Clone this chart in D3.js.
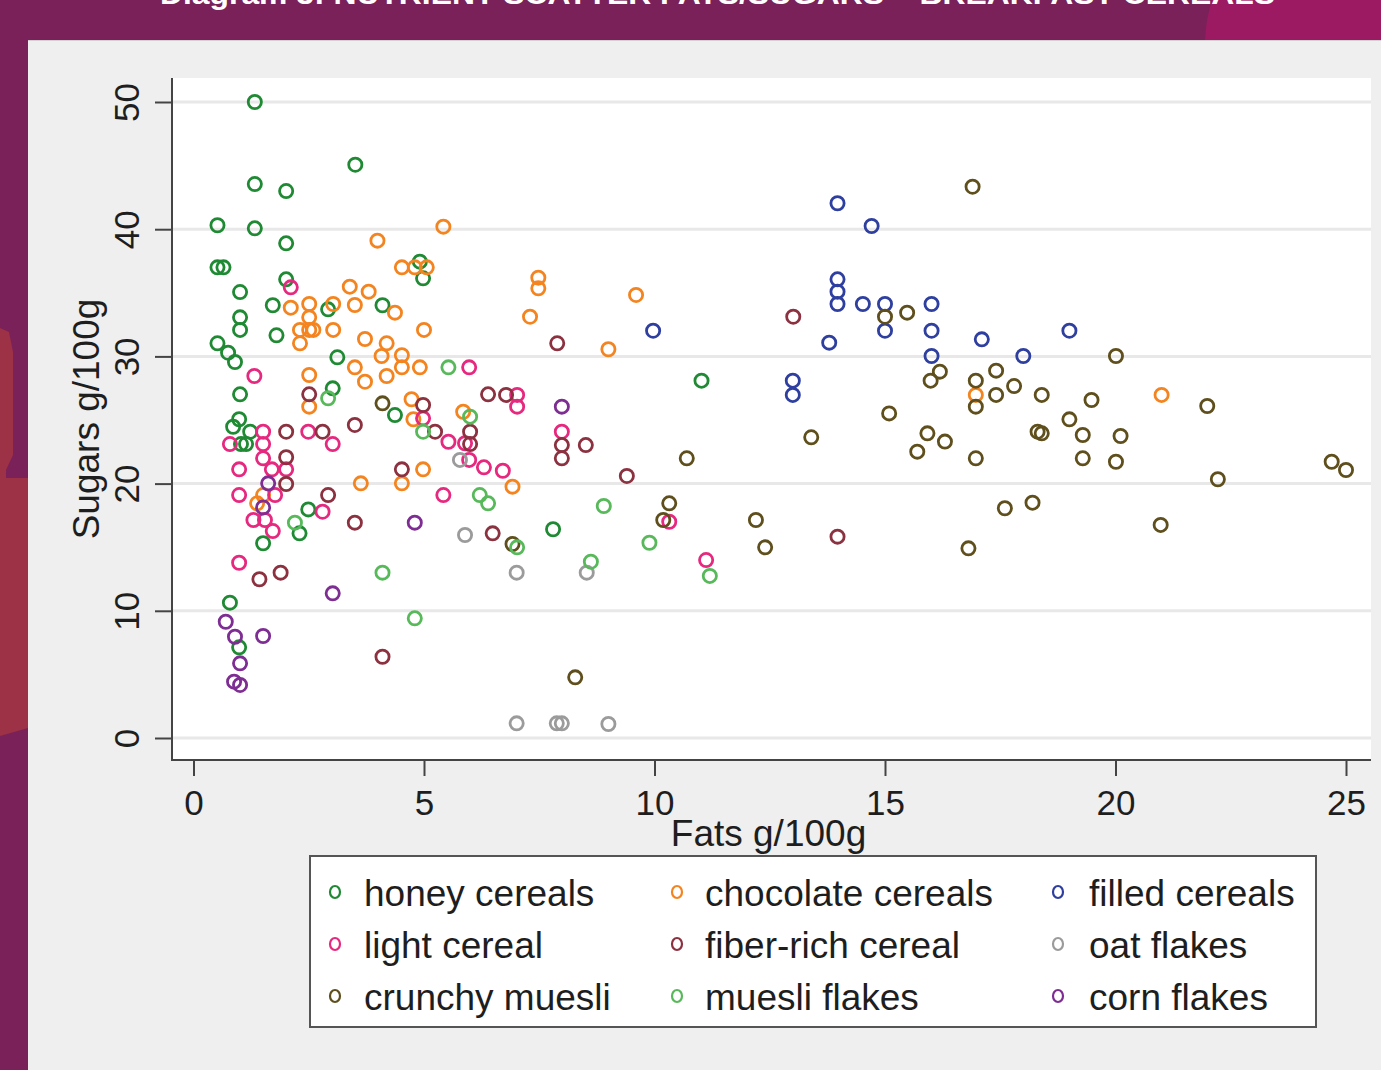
<!DOCTYPE html>
<html>
<head>
<meta charset="utf-8">
<script src="https://cdn.jsdelivr.net/npm/d3@7"></script>
<style>
  html, body { margin: 0; padding: 0; background: #7a2159; }
  svg { display: block; }
  text { font-family: "Liberation Sans", Arial, sans-serif; }
</style>
</head>
<body>
<svg id="chart" width="1381" height="1070"></svg>
<script>
// Fat (g/100g) and sugar (g/100g) per product, one array per cereal group
const honeyCereals = [
  [1.33,50.0],[3.51,45.07],[1.33,43.55],[2.01,43.0],[0.52,40.31],[1.33,40.07],[2.01,38.89],
  [0.52,37.0],[0.65,37.0],[2.01,36.06],[4.91,37.45],[4.98,36.14],[1.01,35.06],[1.72,34.02],
  [4.1,34.02],[2.92,33.7],[1.01,33.07],[1.01,32.08],[1.8,31.66],[0.52,31.03],[0.75,30.29],
  [0.9,29.56],[3.12,29.93],[1.01,27.02],[3.02,27.49],[4.37,25.39],[0.99,25.06],[0.86,24.47],
  [1.23,24.08],[1.03,23.11],[1.14,23.11],[2.49,17.97],[2.3,16.09],[1.51,15.31],[0.79,10.64],
  [0.99,7.13],[11.02,28.09],[7.8,16.41]
];
const chocolateCereals = [
  [5.42,40.2],[3.99,39.1],[4.52,37.0],[4.8,37.0],[5.06,37.0],[3.39,35.48],[3.8,35.09],
  [2.11,33.83],[2.51,34.12],[3.03,34.12],[3.5,34.04],[2.51,33.07],[2.31,32.08],[2.51,32.08],
  [2.6,32.08],[3.03,32.08],[2.31,31.03],[4.37,33.44],[5.0,32.08],[3.72,31.37],[4.19,31.03],
  [4.08,30.03],[4.52,30.09],[3.5,29.14],[4.52,29.14],[4.91,29.14],[2.51,28.54],[3.72,28.01],
  [4.19,28.46],[2.51,26.05],[4.73,26.63],[5.85,25.65],[4.77,25.06],[4.98,21.12],[3.63,20.02],
  [4.52,20.02],[1.38,18.45],[1.51,19.1],[7.48,36.19],[7.48,35.35],[9.6,34.83],[7.3,33.12],
  [9.0,30.56],[6.92,19.76],[16.97,26.97],[21.0,26.97]
];
const filledCereals = [
  [13.97,42.04],[14.71,40.25],[13.97,36.06],[13.97,35.09],[13.97,34.12],[14.52,34.12],
  [15.0,34.12],[16.01,34.12],[15.0,32.02],[16.01,32.02],[13.79,31.08],[17.1,31.34],
  [16.01,30.03],[18.0,30.03],[19.0,32.02],[13.0,28.09],[13.0,26.97],[9.97,32.02]
];
const lightCereal = [
  [2.11,35.43],[1.32,28.46],[5.98,29.14],[4.98,25.13],[1.51,24.08],[2.49,24.08],[3.02,23.11],
  [0.79,23.11],[1.51,23.11],[1.51,21.99],[0.99,21.12],[1.7,21.12],[2.01,21.12],[1.77,19.1],
  [0.99,19.1],[1.3,17.14],[1.55,17.14],[1.72,16.27],[0.99,13.78],[2.8,17.79],[5.42,19.1],
  [5.53,23.29],[5.89,23.17],[5.98,21.86],[6.3,21.28],[6.71,21.01],[7.02,26.97],[7.02,26.05],
  [7.99,24.08],[10.32,17.0],[11.12,13.99]
];
const fiberRichCereal = [
  [2.51,27.02],[6.39,27.02],[4.98,26.18],[2.01,24.08],[2.8,24.08],[3.5,24.61],[2.01,22.07],
  [2.01,19.97],[2.92,19.1],[3.5,16.93],[4.52,21.12],[5.24,24.08],[6.0,24.08],[6.0,23.11],
  [6.49,16.09],[1.43,12.48],[1.89,13.0],[4.1,6.39],[7.89,31.03],[6.78,26.97],[7.99,23.03],
  [7.99,21.99],[8.51,23.03],[9.4,20.6],[13.01,33.12],[13.97,15.83]
];
const oatFlakes = [
  [5.78,21.86],[5.89,15.96],[7.01,13.0],[8.53,13.0],[7.01,1.15],[7.88,1.15],[7.99,1.15],[9.0,1.1]
];
const crunchyMuesli = [
  [4.1,26.31],[10.7,21.99],[10.32,18.45],[10.19,17.14],[6.92,15.25],[8.28,4.77],[16.9,43.34],
  [15.0,33.12],[15.48,33.44],[16.19,28.8],[15.99,28.09],[16.97,28.09],[17.41,28.88],[17.8,27.67],
  [16.97,26.05],[17.41,26.97],[18.4,26.97],[15.09,25.52],[13.4,23.64],[15.92,23.95],[16.3,23.3],
  [15.7,22.51],[16.97,21.99],[18.31,24.08],[18.4,23.95],[19.0,25.05],[17.6,18.06],[18.2,18.5],
  [12.2,17.14],[12.4,14.99],[16.81,14.91],[20.01,30.03],[19.48,26.57],[21.99,26.1],[19.29,23.82],
  [20.11,23.74],[19.29,21.99],[20.01,21.72],[24.69,21.72],[25.0,21.07],[22.22,20.34],[20.98,16.75]
];
const muesliFlakes = [
  [5.53,29.14],[2.92,26.71],[6.0,25.26],[4.98,24.08],[2.2,16.93],[4.1,13.0],[4.8,9.41],
  [6.21,19.1],[6.39,18.45],[8.9,18.24],[9.89,15.35],[7.02,14.99],[8.62,13.86],[11.2,12.74]
];
const cornFlakes = [
  [1.62,20.02],[1.51,18.13],[4.8,16.93],[3.02,11.37],[0.7,9.14],[0.9,7.96],[1.51,8.02],
  [1.01,5.87],[0.88,4.43],[1.01,4.17],[7.99,26.05]
];

const categories = ["honey cereals","chocolate cereals","filled cereals",
                    "light cereal","fiber-rich cereal","oat flakes",
                    "crunchy muesli","muesli flakes","corn flakes"];
const seriesValues = [honeyCereals, chocolateCereals, filledCereals,
                      lightCereal, fiberRichCereal, oatFlakes,
                      crunchyMuesli, muesliFlakes, cornFlakes];
const seriesColors = ["#1f8a33","#f4841f","#2e3f9f","#e6297f","#8b3140",
                      "#9b9b9b","#5f4f1d","#58b95b","#7e2d93"];

const xTicks = [0,5,10,15,20,25];
const yTicks = [0,10,20,30,40,50];
const titleText = "Diagram 3: NUTRIENT SCATTER FATS/SUGARS \u2013 BREAKFAST CEREALS";
const xTitle = "Fats g/100g";
const yTitle = "Sugars g/100g";

const svg = d3.select("#chart");

// page backdrop
svg.append("rect").attr("width",1381).attr("height",1070).attr("fill","#7a2159");
svg.append("path")
  .attr("d","M1212,0 L1381,0 L1381,40 L1205,40 Q1206,18 1212,0 Z")
  .attr("fill","#9b1a62");
svg.append("path")
  .attr("d","M0,328 L9,332 L13,352 L13,455 L6,470 L6,478 L28,478 L28,728 L0,736 Z")
  .attr("fill","#9d3145");
// banner heading runs off the top of the page
svg.append("text")
  .attr("x",160).attr("y",4)
  .attr("textLength",1115).attr("lengthAdjust","spacingAndGlyphs")
  .attr("fill","#ffffff").attr("font-weight","bold").attr("font-size",30)
  .text(titleText);

// graph region
svg.append("rect").attr("x",28).attr("y",40).attr("width",1353).attr("height",1030).attr("fill","#efefef");
svg.append("line").attr("x1",28).attr("x2",1381).attr("y1",40.5).attr("y2",40.5).attr("stroke","#d4d0d4");

const plot = {left:172, right:1371, top:78, bottom:760};
svg.append("rect").attr("x",plot.left).attr("y",plot.top)
  .attr("width",plot.right-plot.left).attr("height",plot.bottom-plot.top).attr("fill","#ffffff");

const x = d3.scaleLinear().domain([0,25]).range([193.5,1346]);
const y = d3.scaleLinear().domain([0,50]).range([738,102]);

// horizontal grid
svg.append("g").selectAll("line").data(yTicks).join("line")
  .attr("x1",plot.left).attr("x2",plot.right)
  .attr("y1",d=>y(d)).attr("y2",d=>y(d))
  .attr("stroke","#e8e8e8").attr("stroke-width",3);

// axes
const axisColor = "#444";
const xAxis = svg.append("g").attr("transform",`translate(0,${plot.bottom})`)
  .call(d3.axisBottom(x).tickValues(xTicks).tickSize(16).tickPadding(14).tickFormat(d3.format("d")));
const yAxis = svg.append("g").attr("transform",`translate(${plot.left},0)`)
  .call(d3.axisLeft(y).tickValues(yTicks).tickSize(17).tickFormat(d3.format("d")));
[xAxis,yAxis].forEach(a=>{
  a.select(".domain").remove();
  a.selectAll(".tick line").attr("stroke",axisColor).attr("stroke-width",2);
  a.selectAll(".tick text").attr("fill","#1e1e1e").attr("font-size",35)
    .attr("font-family","'Liberation Sans', Arial, sans-serif");
});
yAxis.selectAll(".tick text")
  .attr("transform","rotate(-90)")
  .attr("x",0).attr("y",-33).attr("dy",null)
  .attr("text-anchor","middle");

svg.append("line").attr("x1",plot.left).attr("x2",plot.left)
  .attr("y1",plot.top).attr("y2",plot.bottom+1).attr("stroke",axisColor).attr("stroke-width",2);
svg.append("line").attr("x1",plot.left-1).attr("x2",plot.right)
  .attr("y1",plot.bottom).attr("y2",plot.bottom).attr("stroke",axisColor).attr("stroke-width",2);

svg.append("text").attr("x",(plot.left+plot.right)/2-3).attr("y",846)
  .attr("text-anchor","middle").attr("font-size",37).attr("fill","#1e1e1e").text(xTitle);
svg.append("text").attr("transform","translate(99,419) rotate(-90)")
  .attr("text-anchor","middle").attr("font-size",37).attr("fill","#1e1e1e").text(yTitle);

// markers, drawn group by group in legend order
seriesValues.forEach((vals,i)=>{
  svg.append("g").selectAll("circle").data(vals).join("circle")
    .attr("cx",d=>x(d[0])).attr("cy",d=>y(d[1])).attr("r",6.6)
    .attr("fill","none").attr("stroke",seriesColors[i]).attr("stroke-width",2.8);
});

// legend
const legend = svg.append("g");
legend.append("rect").attr("x",310).attr("y",856).attr("width",1006).attr("height",171)
  .attr("fill","#ffffff").attr("stroke","#555").attr("stroke-width",2);
const colMarker = [335,677,1058];
const colText = [364,705,1089];
const rowBase = [906,958,1010];
categories.forEach((c,i)=>{
  const col = i%3, row = Math.floor(i/3);
  legend.append("ellipse").attr("cx",colMarker[col]).attr("cy",rowBase[row]-14)
    .attr("rx",5).attr("ry",6)
    .attr("fill","none").attr("stroke",seriesColors[i]).attr("stroke-width",2.2);
  legend.append("text").attr("x",colText[col]).attr("y",rowBase[row])
    .attr("font-size",37).attr("fill","#1e1e1e").text(c);
});
</script>
</body>
</html>
